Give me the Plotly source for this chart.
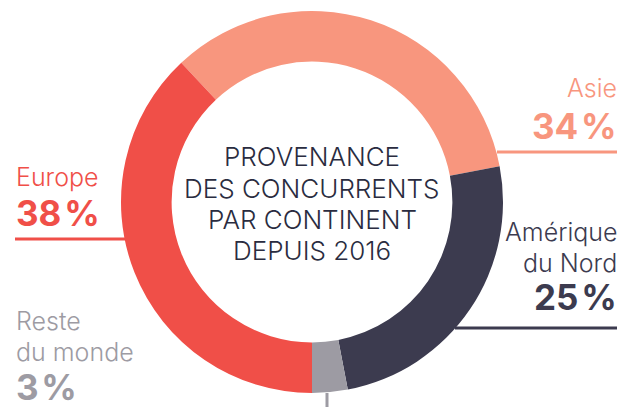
import plotly.graph_objects as go

regions = ["Asie", "Amérique du Nord", "Reste du monde", "Europe"]
shares = [34, 25, 3, 38]
label_lines = [["Asie"], ["Amérique", "du Nord"], ["Reste", "du monde"], ["Europe"]]
colors = ["#F8967E", "#3C3B4F", "#9D9BA3", "#F04F48"]
center_lines = ["PROVENANCE", "DES CONCURRENTS", "PAR CONTINENT", "DEPUIS 2016"]

FONT = "Inter"
OFF = 8  # default body margin of the page
W, H = 625 - OFF, 407 - OFF

def px(x): return (x - OFF) / W
def py(y): return 1 - (y - OFF) / H

CX, CY, R = 312, 202, 191
fig = go.Figure(go.Pie(
    labels=regions, values=shares, sort=False, direction="clockwise",
    rotation=-43.2, hole=0.735,
    marker=dict(colors=colors, line=dict(width=0)),
    textinfo="none", hoverinfo="label+percent", showlegend=False,
    domain=dict(x=[px(CX - R), px(CX + R)], y=[py(CY + R), py(CY - R)]),
))

ann = []
for i, t in enumerate(center_lines):
    ann.append(dict(x=px(312), y=py(157 + i * 31), text=t, showarrow=False,
                    xanchor="center", yanchor="middle",
                    font=dict(family=FONT, size=26, color="#2A2C40", weight=300)))

label_pos = {
    "Asie": dict(x=618, ys=[88], yp=126, anchor="right"),
    "Amérique du Nord": dict(x=618, ys=[232, 263], yp=297, anchor="right"),
    "Reste du monde": dict(x=15, ys=[321, 352], yp=387, anchor="left"),
    "Europe": dict(x=15, ys=[177], yp=213, anchor="left"),
}
for reg, val, lines, col in zip(regions, shares, label_lines, colors):
    p = label_pos[reg]
    for t, y in zip(lines, p["ys"]):
        ann.append(dict(x=px(p["x"]), y=py(y), text=t, showarrow=False,
                        xanchor=p["anchor"], yanchor="middle", borderpad=0,
                        font=dict(family=FONT, size=25, color=col, weight=300)))
    ann.append(dict(x=px(p["x"]), y=py(p["yp"]), text=f"{val}\u200a%", showarrow=False,
                    xanchor=p["anchor"], yanchor="middle", borderpad=0, height=34,
                    font=dict(family=FONT, size=35, color=col, weight=700)))

def hline(x0, x1, y, c):
    return dict(type="line", xref="paper", yref="paper", x0=px(x0), x1=px(x1),
                y0=py(y), y1=py(y), line=dict(color=c, width=3))

shapes = [
    hline(497, 620, 152, colors[0]),
    hline(455, 620, 328, colors[1]),
    hline(15, 126, 239, colors[3]),
    dict(type="line", xref="paper", yref="paper", x0=px(327), x1=px(327), y0=py(393), y1=py(407),
         line=dict(color=colors[2], width=3)),
]

fig.update_layout(width=W, height=H, margin=dict(l=0, r=0, t=0, b=0),
                  paper_bgcolor="white", plot_bgcolor="white",
                  annotations=ann, shapes=shapes)
fig.write_html("out.html")
